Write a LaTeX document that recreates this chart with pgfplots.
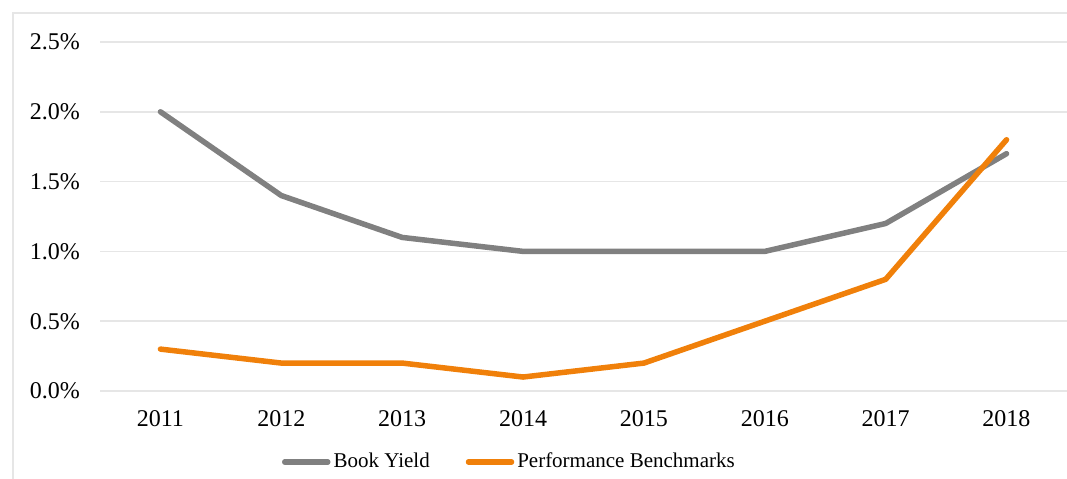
\documentclass[border=0pt]{standalone}
\usepackage{pgfplots}
\pgfplotsset{compat=1.18}
\usepackage{fontspec}
\setmainfont{Liberation Serif}
\definecolor{byGray}{RGB}{128,128,128}
\definecolor{pbOrange}{RGB}{240,128,10}
\definecolor{gridc}{RGB}{230,230,230}
\begin{document}
\fontsize{24bp}{29bp}\selectfont
\begin{tikzpicture}[x=1bp,y=1bp]
\path[use as bounding box] (0,0) rectangle (1067,479);
\draw[gridc, line width=1.5bp] (13,0) -- (13,466) -- (1067,466);
\begin{axis}[
  at={(100bp,88bp)}, anchor=south west,
  width=967bp, height=349bp, scale only axis,
  xmin=2010.5, xmax=2018.5, ymin=0, ymax=2.5,
  xtick={2011,...,2018},
  xticklabels={2011,2012,2013,2014,2015,2016,2017,2018},
  ytick={0,0.5,1,1.5,2,2.5},
  yticklabels={0.0\%,0.5\%,1.0\%,1.5\%,2.0\%,2.5\%},
  /pgf/number format/assume math mode=true,
  ymajorgrids, grid style={gridc, line width=1.5bp},
  axis line style={draw=none},
  major tick length=0pt,
  tick label style={font=\fontsize{24bp}{29bp}\selectfont},
  xticklabel style={inner sep=0pt, anchor=north, yshift=-19bp},
  yticklabel style={inner sep=0pt, anchor=east, xshift=-20bp},
  clip=false,
  legend columns=-1,
  legend style={at={(rel axis cs:0.188,-0.2034)}, anchor=west, draw=none, fill=none,
    inner sep=0pt, font=\fontsize{21bp}{25bp}\selectfont,
    /tikz/every even column/.append style={column sep=36bp},
    nodes={inner sep=0pt, anchor=west}},
  legend image code/.code={\draw[#1, line cap=round] (2.5bp,0bp) -- (45.5bp,0bp);},
  legend cell align=left,
]
\addplot[byGray, line width=5.5bp, line cap=round, line join=round] coordinates {
(2011,2.0) (2012,1.4) (2013,1.1) (2014,1.0) (2015,1.0) (2016,1.0) (2017,1.2) (2018,1.7)};
\addlegendentry{\hspace{3bp}Book Yield}
\addplot[pbOrange, line width=5.5bp, line cap=round, line join=round] coordinates {
(2011,0.3) (2012,0.2) (2013,0.2) (2014,0.1) (2015,0.2) (2016,0.5) (2017,0.8) (2018,1.8)};
\addlegendentry{\hspace{3bp}Performance Benchmarks}
\end{axis}
\end{tikzpicture}
\end{document}
